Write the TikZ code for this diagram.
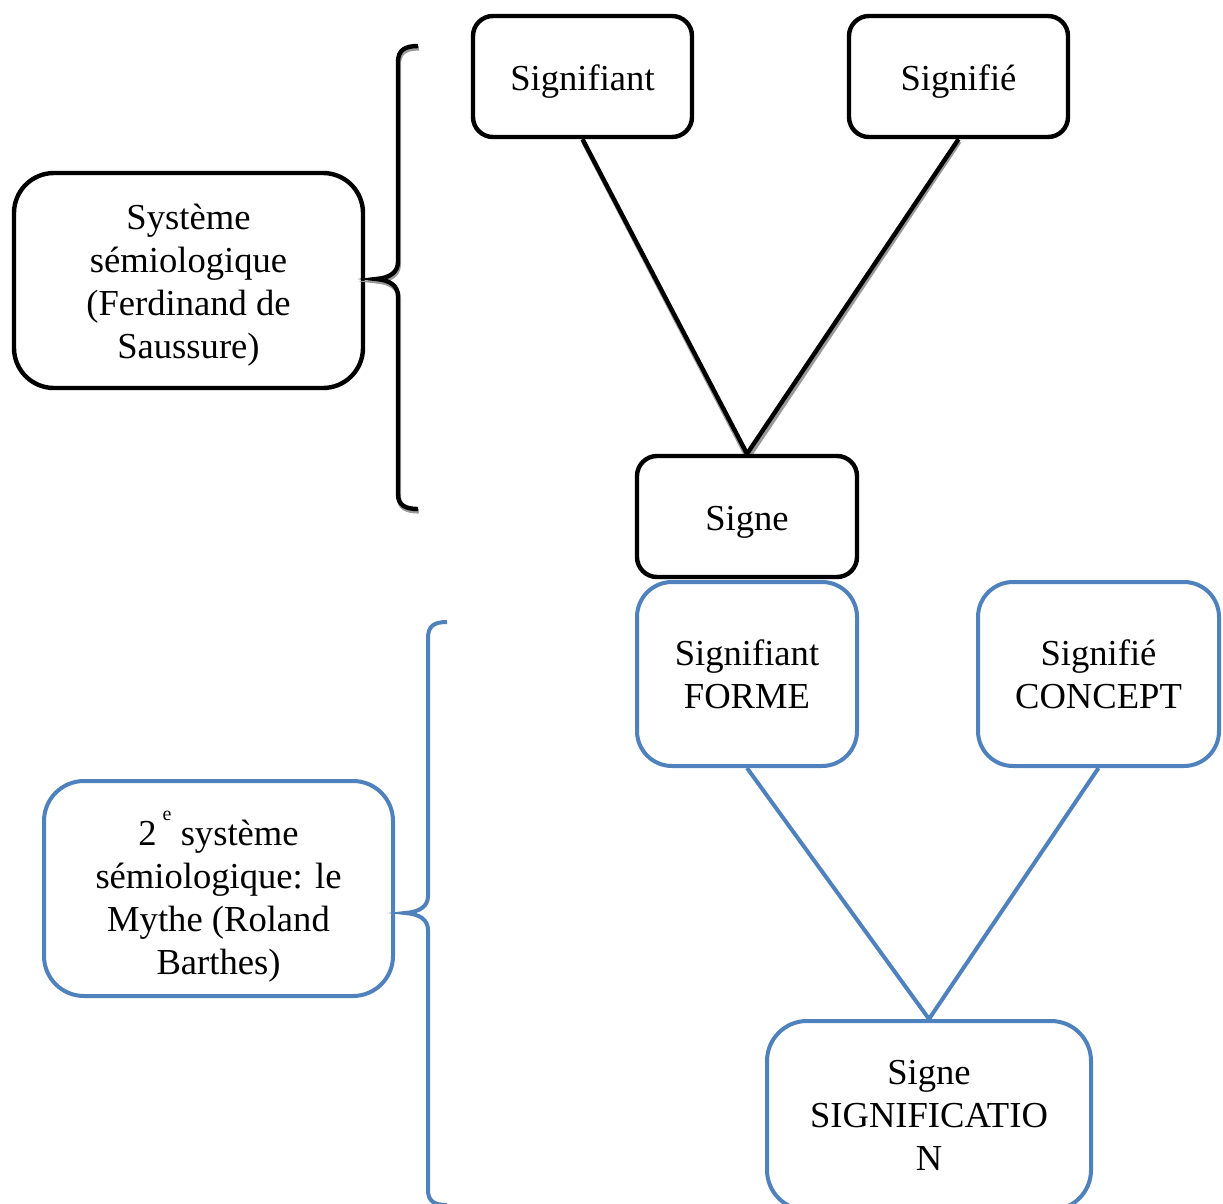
\documentclass[tikz,border=0pt]{standalone}
\usepackage{fontspec}
\setmainfont{Liberation Serif}
\definecolor{mblue}{HTML}{4F81BD}
\definecolor{shadowgray}{HTML}{9A9A9A}
\begin{document}
\begin{tikzpicture}[x=1pt,y=-1pt,
  box/.style={rectangle, inner sep=0pt, fill=white},
  blk/.style={box, draw=black, line width=4.4pt},
  blu/.style={box, draw=mblue, line width=4pt},
  txt/.style={inner sep=0pt, align=center, font=\fontsize{36.6}{43}\selectfont},
  blkline/.style={line width=4.4pt, draw=black},
  shline/.style={line width=4.4pt, draw=shadowgray, transform canvas={shift={(0.8pt,-2.4pt)}}},
  bluline/.style={line width=4pt, draw=mblue},
  bracestyle/.style={line width=4.4pt, line cap=butt}
]
\useasboundingbox (0,0) rectangle (1223,1204);
\clip (0,0) rectangle (1223,1204);

% first system (black)
\node[blk, minimum width=219pt, minimum height=121pt, rounded corners=20pt,
  label={[txt, yshift=-5pt]center:Signifiant}] (sa) at (582.5,76.5) {};
\node[blk, minimum width=219pt, minimum height=121pt, rounded corners=20pt,
  label={[txt, yshift=-5pt]center:Signifié}] (se) at (958.5,76.5) {};
\node[blk, minimum width=349pt, minimum height=215pt, rounded corners=40pt,
  label={[txt, yshift=-5pt]center:Système\\sémiologique\\(Ferdinand de\\Saussure)}] (sys1) at (188.5,280.5) {};

% shadows of black connectors
\draw[shline] (sa.south) -- (747,456);
\draw[shline] (se.south) -- (747,456);

\node[blk, minimum width=220pt, minimum height=121pt, rounded corners=20pt,
  label={[txt, yshift=-6pt]center:Signe}] (sg) at (747,516.5) {};

\draw[blkline] (sa.south) -- (sg.north);
\draw[blkline] (se.south) -- (sg.north);

% black brace with shadow
\draw[bracestyle, draw=shadowgray, transform canvas={shift={(0.8pt,-2.4pt)}}]
  (418,46) .. controls (405,46) and (398,50) .. (398,62) -- (398,262)
  .. controls (398,272) and (390,278) .. (376,279)
  .. controls (390,280) and (398,286) .. (398,296) -- (398,494)
  .. controls (398,505) and (405,509) .. (418,509);
\draw[bracestyle, draw=black]
  (418,46) .. controls (405,46) and (398,50) .. (398,62) -- (398,262)
  .. controls (398,272) and (390,278) .. (376,279)
  .. controls (390,280) and (398,286) .. (398,296) -- (398,494)
  .. controls (398,505) and (405,509) .. (418,509);

% second system (blue)
\node[blu, minimum width=220pt, minimum height=184pt, rounded corners=35pt,
  label={[txt]center:Signifiant\\FORME}] (forme) at (747,674) {};
\node[blu, minimum width=241pt, minimum height=184pt, rounded corners=35pt,
  label={[txt]center:Signifié\\CONCEPT}] (concept) at (1098.5,674) {};
\node[blu, minimum width=349pt, minimum height=215pt, rounded corners=40pt,
  label={[txt, yshift=-13pt]center:2\,\smash{\raisebox{25pt}{\fontsize{20}{20}\selectfont e}}\ système\\sémiologique: le\\Mythe (Roland\\Barthes)}] (sys2) at (218.5,888.5) {};
\node[blu, minimum width=324pt, minimum height=189pt, rounded corners=40pt,
  label={[txt]center:Signe\\SIGNIFICATIO\\N}] (signif) at (929,1115.5) {};

\draw[bluline] (forme.south) -- (signif.north);
\draw[bluline] (concept.south) -- (signif.north);

% blue brace
\draw[bracestyle, line width=4pt, draw=mblue]
  (447,622) .. controls (434,622) and (428,626) .. (428,638) -- (428,896)
  .. controls (428,906) and (420,912) .. (405,913)
  .. controls (420,914) and (428,920) .. (428,930) -- (428,1190)
  .. controls (428,1201) and (434,1205) .. (447,1205);
\end{tikzpicture}
\end{document}
